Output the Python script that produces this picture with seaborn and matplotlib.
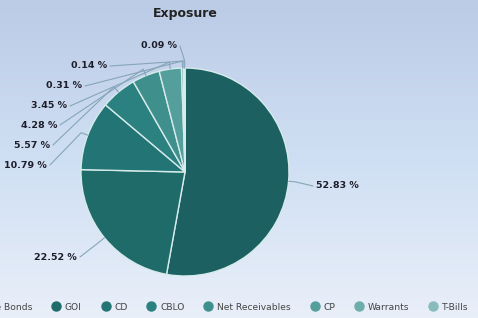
import numpy as np
import matplotlib
matplotlib.use("Agg")
import matplotlib.pyplot as plt
from matplotlib.colors import LinearSegmentedColormap
from matplotlib.lines import Line2D
import seaborn as sns

# data
categories = ["Corporate Bonds", "GOI", "CD", "CBLO", "Net Receivables",
              "CP", "Warrants", "T-Bills", "Cash"]
shares = [52.83, 22.52, 10.79, 5.57, 4.28, 3.45, 0.31, 0.14, 0.09]
value_labels = ["52.83 %", "22.52 %", "10.79 %", "5.57 %", "4.28 %",
                "3.45 %", "0.31 %", "0.14 %", "0.09 %"]

# label anchors (pixel coords from top-left) and alignment
label_pos = [(316, 186), (77, 257), (47, 165), (50, 145), (57, 125),
             (67, 106), (82, 86), (107, 66), (177, 46)]
label_ha = ["left"] + ["right"] * 8

sns.set_theme(style="white")
plt.rcParams["font.family"] = ["DejaVu Sans"]

W, H = 478, 318
fig = plt.figure(figsize=(W / 100, H / 100), dpi=100)

# gradient background
bg = fig.add_axes([0, 0, 1, 1], zorder=-1)
cmap = LinearSegmentedColormap.from_list(
    "bg", [(0, "#bccbe6"), (0.5, "#cfdff3"), (1, "#e9eff9")])
grad = np.linspace(0, 1, 256).reshape(-1, 1)
bg.imshow(grad, aspect="auto", cmap=cmap, extent=[0, 1, 0, 1], origin="upper")
bg.axis("off")

ax = fig.add_axes([0, 0, 1, 1])
ax.patch.set_alpha(0)

colors = sns.blend_palette(["#1c6061", "#247c7a", "#5aa3a0", "#a3c9ca"], 9)

cx, cy, r = 185, H - 172, 104
wedges, _ = ax.pie(shares, colors=colors, startangle=90, counterclock=False,
                   radius=r, center=(cx, cy),
                   wedgeprops=dict(edgecolor="#d6ebeb", linewidth=1))
ax.set_xlim(0, W)
ax.set_ylim(0, H)
ax.set_aspect("auto")
ax.axis("off")

for w, lab, (lx, ly), ha in zip(wedges, value_labels, label_pos, label_ha):
    ang = np.deg2rad((w.theta1 + w.theta2) / 2)
    p0 = (cx + r * np.cos(ang), cy + r * np.sin(ang))
    p1 = (cx + (r + 7) * np.cos(ang), cy + (r + 7) * np.sin(ang))
    ty = H - ly
    tx = lx - 3 if ha == "left" else lx + 3
    ax.plot([p0[0], p1[0], tx], [p0[1], p1[1], ty], color="#86a6b8",
            lw=0.8, solid_capstyle="round")
    ax.text(lx, ty, lab, ha=ha, va="center", fontsize=6.8,
            fontweight="bold", color="#1e1e2a")

ax.text(cx, H - 14, "Exposure", ha="center", va="center", fontsize=9,
        fontweight="bold", color="#222222")

handles = [Line2D([], [], marker="o", linestyle="none", markersize=6.5,
                  markerfacecolor=c, markeredgecolor=c) for c in colors]
ax.legend(handles, categories, ncol=9, loc="center left",
          bbox_to_anchor=(-66 / W, 1 - 307 / H), frameon=False,
          fontsize=6.6, handlelength=0.9, handletextpad=0.5,
          columnspacing=2.15, labelcolor="#444444")

fig.savefig("out.png", dpi=100)
